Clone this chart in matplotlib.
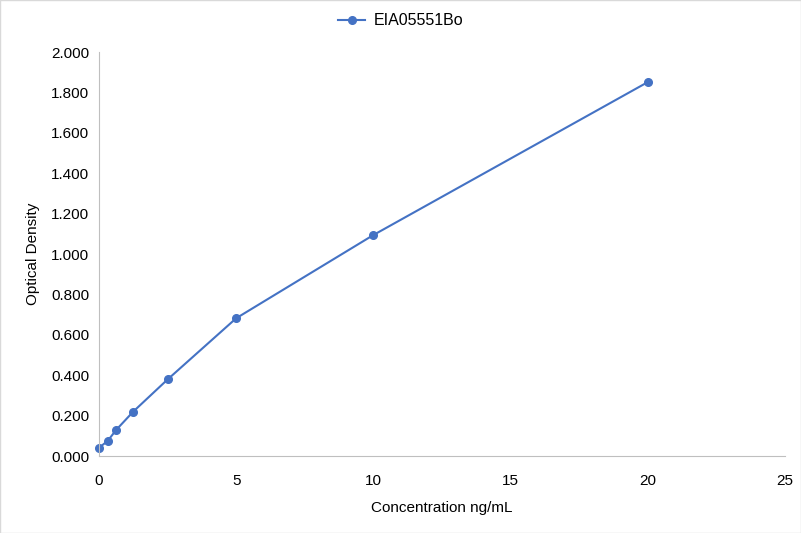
import matplotlib.pyplot as plt

conc = [0, 0.3125, 0.625, 1.25, 2.5, 5, 10, 20]
od = [0.041, 0.074, 0.129, 0.220, 0.379, 0.682, 1.094, 1.851]
series_name = "EIA05551Bo"

plt.rcParams['font.family'] = ['Liberation Sans', 'DejaVu Sans']

fig = plt.figure(figsize=(8.01, 5.33), dpi=100)
fig.patches.append(plt.Rectangle((0, 0), 1, 1, transform=fig.transFigure,
                                 fill=False, edgecolor='#d9d9d9', linewidth=1))
ax = fig.add_axes([99 / 801, 1 - 456 / 533, (785 - 99) / 801, (456 - 52) / 533])

ax.plot(conc, od, color='#4472c4', marker='o', markersize=5.5, linewidth=1.5,
        label=series_name, clip_on=False)

ax.set_xlim(0, 25)
ax.set_ylim(0, 2.0)
ax.set_xticks([0, 5, 10, 15, 20, 25])
ax.set_yticks([0, 0.2, 0.4, 0.6, 0.8, 1.0, 1.2, 1.4, 1.6, 1.8, 2.0])
ax.set_yticklabels([f"{v:.3f}" for v in ax.get_yticks()])
ax.tick_params(length=0, labelsize=11, colors='#000000')
ax.tick_params(axis='x', pad=13)
ax.tick_params(axis='y', pad=7)

for side in ['top', 'right']:
    ax.spines[side].set_visible(False)
for side in ['left', 'bottom']:
    ax.spines[side].set_color('#bfbfbf')

ax.set_xlabel("Concentration ng/mL", fontsize=11, labelpad=9)
ax.set_ylabel("Optical Density", fontsize=11, labelpad=8)

fig.legend(loc='upper center', bbox_to_anchor=(0.5, 1.002), frameon=False,
           fontsize=11.5, handlelength=1.7, handletextpad=0.5)

fig.savefig("out.png", dpi=100)
